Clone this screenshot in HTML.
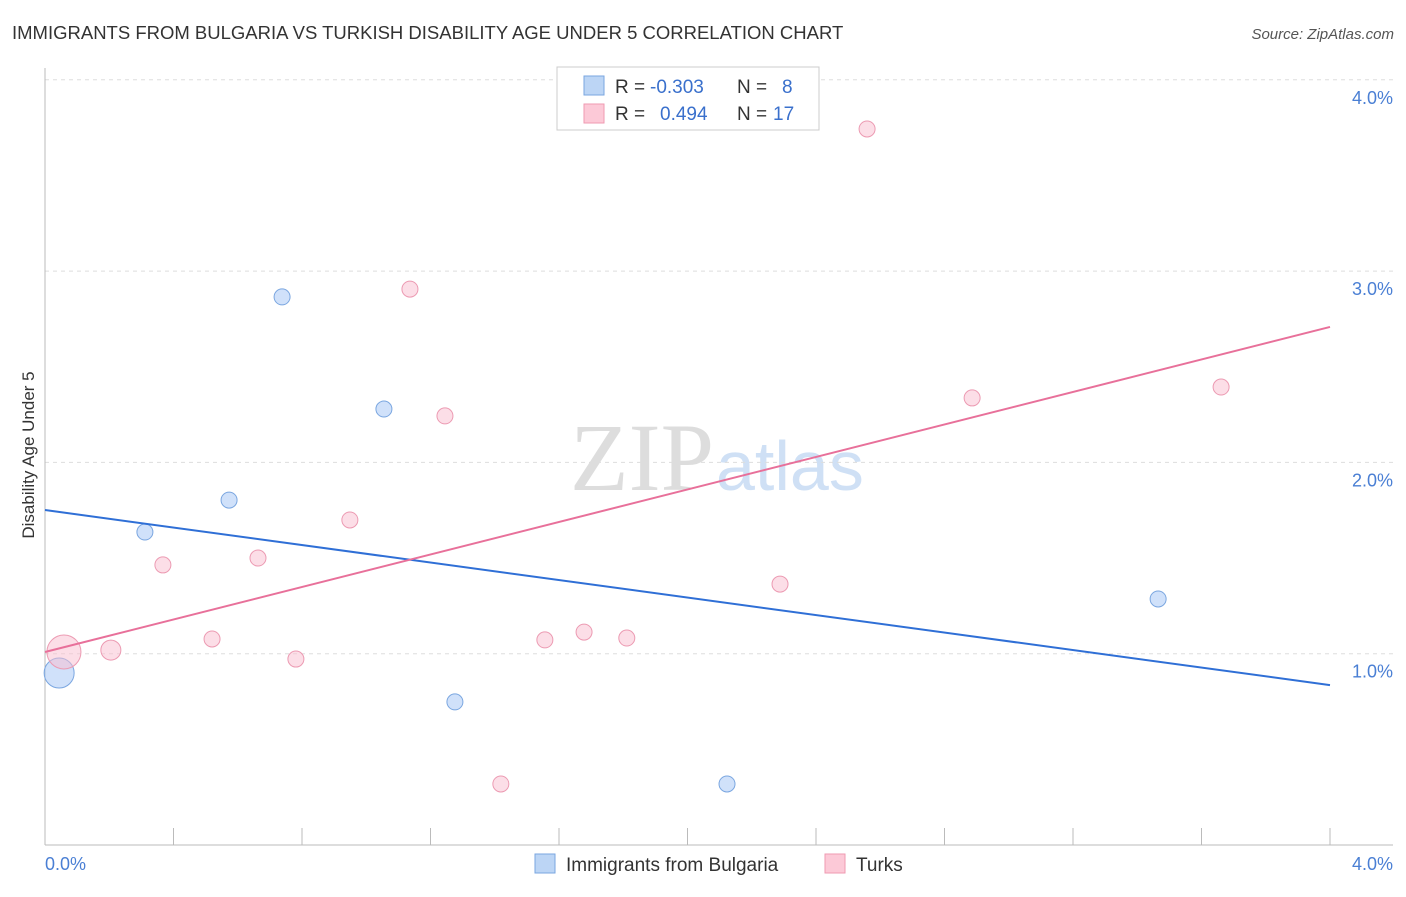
<!DOCTYPE html>
<html><head><meta charset="utf-8"><style>
body{margin:0;background:#fff;font-family:"Liberation Sans",sans-serif}
</style></head><body>
<svg width="1406" height="892" xmlns="http://www.w3.org/2000/svg">
<text x="12" y="39" font-size="18.5" fill="#333">IMMIGRANTS FROM BULGARIA VS TURKISH DISABILITY AGE UNDER 5 CORRELATION CHART</text>
<text x="1394" y="39" font-size="15" fill="#555" font-style="italic" text-anchor="end">Source: ZipAtlas.com</text>
<text x="714" y="490" font-size="96" fill="#ddd" font-family="Liberation Serif" text-anchor="end">ZIP</text>
<text x="716" y="490" font-size="70" fill="#cfe0f5">atlas</text>
<g id="grid"></g>
<g id="marks"></g>
<text transform="translate(34,455) rotate(-90)" font-size="17" fill="#333" text-anchor="middle">Disability Age Under 5</text>
<text x="45" y="870" font-size="18" fill="#4a7fd4">0.0%</text>
<text x="1393" y="870" font-size="18" fill="#4a7fd4" text-anchor="end">4.0%</text>
<g>
<rect x="557" y="67" width="262" height="63" fill="#fff" stroke="#ccc"/>
<rect x="584" y="76" width="20" height="19" fill="#bcd5f5" stroke="#7aa6e0"/>
<rect x="584" y="104" width="20" height="19" fill="#fcc9d7" stroke="#ef9ab2"/>
<text y="93" font-size="19" fill="#333"><tspan x="615">R =</tspan><tspan x="650" fill="#3a70cc">-0.303</tspan><tspan x="737">N =</tspan><tspan x="782" fill="#3a70cc">8</tspan></text>
<text y="120" font-size="19" fill="#333"><tspan x="615">R =</tspan><tspan x="660" fill="#3a70cc">0.494</tspan><tspan x="737">N =</tspan><tspan x="773" fill="#3a70cc">17</tspan></text>
</g>
<g>
<rect x="535" y="854" width="20" height="19" fill="#bcd5f5" stroke="#7aa6e0"/>
<text x="566" y="871" font-size="19" fill="#333">Immigrants from Bulgaria</text>
<rect x="825" y="854" width="20" height="19" fill="#fcc9d7" stroke="#ef9ab2"/>
<text x="856" y="871" font-size="19" fill="#333">Turks</text>
</g>
</svg>
<script>
const yTicks=[1,2,3,4];
const yTickLabels=["1.0%","2.0%","3.0%","4.0%"];
const xTicks=[0,0.4,0.8,1.2,1.6,2,2.4,2.8,3.2,3.6,4];
const blueX=[0.044,0.311,0.573,0.738,1.055,1.276,2.123,3.465];
const blueY=[0.899,1.636,1.803,2.865,2.279,0.748,0.319,1.286];
const blueR=[15,8,8,8,8,8,8,8];
const pinkX=[0.059,0.205,0.367,0.520,0.663,0.781,0.949,1.136,1.245,1.419,1.556,1.678,1.811,2.288,2.559,2.886,3.661];
const pinkY=[1.009,1.019,1.464,1.077,1.500,0.972,1.699,2.906,2.243,0.319,1.072,1.113,1.082,1.364,3.743,2.337,2.394];
const pinkR=[17,10,8,8,8,8,8,8,8,8,8,8,8,8,8,8,8];
const blueTrend=[1.751,0.836];
const pinkTrend=[1.009,2.708];
const NS="http://www.w3.org/2000/svg";
const X=v=>45+v/4*1285, Y=v=>845-v*191.3;
function mk(t,a,p){const e=document.createElementNS(NS,t);for(const k in a)e.setAttribute(k,a[k]);p.appendChild(e);return e;}
const g=document.getElementById('grid'), m=document.getElementById('marks');
yTicks.forEach((t,i)=>{
 const l=mk('line',{x1:45,x2:1393,y1:Y(t),y2:Y(t),stroke:'#ddd','stroke-dasharray':'4,4'},g);
 
 
 const tx=mk('text',{x:1393,y:Y(t)+24,'font-size':18,fill:'#4a7fd4','text-anchor':'end'},g);
 tx.textContent=yTickLabels[i];
 
 
});
const ax=mk('line',{x1:45,x2:1393,y1:845,y2:845,stroke:'#bbb'},g);


const ay=mk('line',{x1:45,x2:45,y1:68,y2:845,stroke:'#bbb'},g);


xTicks.forEach(t=>{
 const l=mk('line',{x1:X(t),x2:X(t),y1:828,y2:845,stroke:'#bbb'},g);
 
 
});
blueX.forEach((v,i)=>{
 const c=mk('circle',{cx:X(v),cy:Y(blueY[i]),r:blueR[i],fill:'rgba(170,200,245,0.55)',stroke:'#7aa6e0','stroke-width':1},m);
 
 
});
pinkX.forEach((v,i)=>{
 const c=mk('circle',{cx:X(v),cy:Y(pinkY[i]),r:pinkR[i],fill:'rgba(250,190,208,0.5)',stroke:'#ec9ab2','stroke-width':1},m);
 
 
});
const bl=mk('line',{x1:X(0),x2:X(4),y1:Y(blueTrend[0]),y2:Y(blueTrend[1]),stroke:'#2f6fd6','stroke-width':2},m);


const pl=mk('line',{x1:X(0),x2:X(4),y1:Y(pinkTrend[0]),y2:Y(pinkTrend[1]),stroke:'#e8709a','stroke-width':2},m);


</script>
</body></html>
